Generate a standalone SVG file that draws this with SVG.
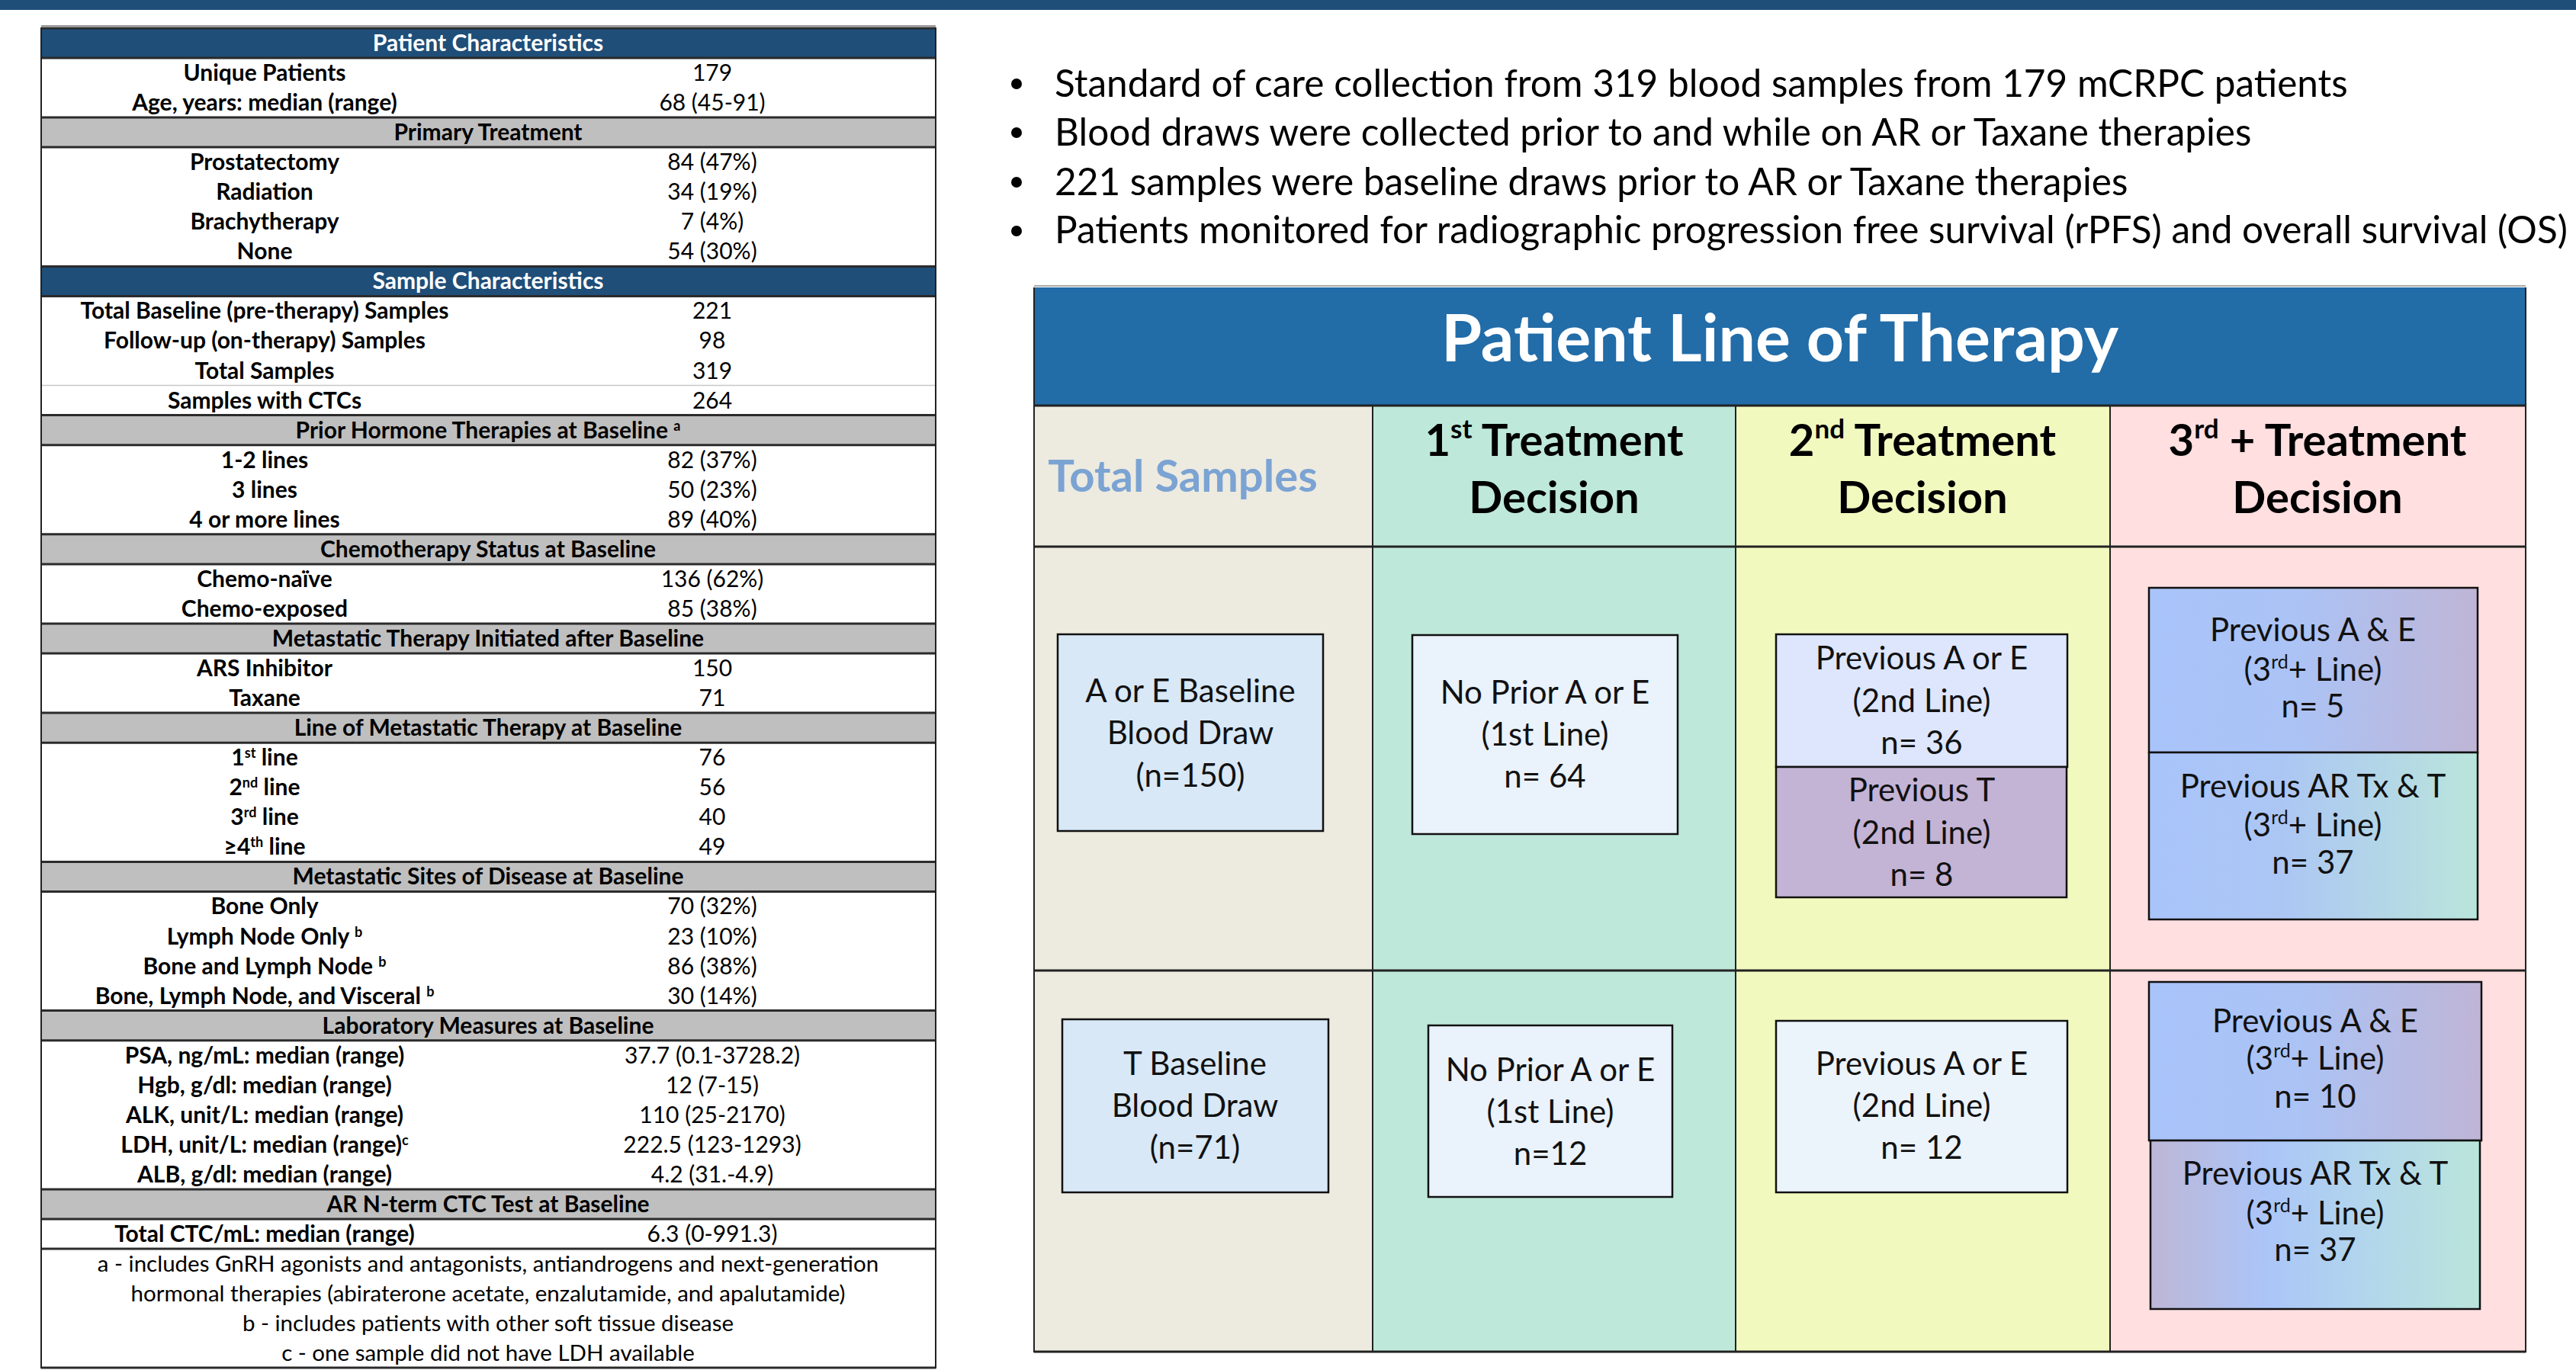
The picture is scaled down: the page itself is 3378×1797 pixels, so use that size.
<svg xmlns="http://www.w3.org/2000/svg" width="3378" height="1797" viewBox="0 0 3378 1797">
<style>
text{font-family:Lato,"Liberation Sans",sans-serif;}
.tl{font-size:30px;font-weight:bold;fill:#000;text-anchor:middle;}
.tv{font-size:30px;fill:#000;text-anchor:middle;}
.th{font-size:30px;font-weight:bold;fill:#000;text-anchor:middle;}
.thw{font-size:30px;font-weight:bold;fill:#fff;text-anchor:middle;}
.fn{font-size:29.5px;fill:#000;text-anchor:middle;}
.sep{stroke:#2b2b2b;stroke-width:3;}
.blu{fill:#1F4E79;}
.gry{fill:#BFBFBF;}
.bul{font-size:49.5px;fill:#000;}
.ph{font-size:86px;font-weight:bold;fill:#fff;text-anchor:middle;}
.sh{font-size:58px;font-weight:bold;fill:#000;text-anchor:middle;}
.bx{stroke:#111;stroke-width:2.5;}
.bt{font-size:42px;fill:#111;text-anchor:middle;}
.cl{stroke:#222;stroke-width:2;}
</style>
<defs>
<linearGradient id="gAE" x1="0" y1="0" x2="1" y2="0">
<stop offset="0" stop-color="#A9C4FA"/><stop offset="0.45" stop-color="#ABC3F5"/><stop offset="1" stop-color="#BFB5D6"/>
</linearGradient>
<linearGradient id="gAR" x1="0" y1="0" x2="1" y2="0">
<stop offset="0" stop-color="#A9C4FA"/><stop offset="0.4" stop-color="#ACC6F4"/><stop offset="1" stop-color="#BAE5DB"/>
</linearGradient>
<linearGradient id="gAR2" x1="0" y1="0" x2="1" y2="0">
<stop offset="0" stop-color="#BEB6D6"/><stop offset="0.35" stop-color="#ABC5F8"/><stop offset="0.7" stop-color="#B3D8EA"/><stop offset="1" stop-color="#BAE5DA"/>
</linearGradient>
</defs>
<rect x="0" y="0" width="3378" height="1797" fill="#fff"/>
<rect x="0" y="0" width="3378" height="13" fill="#1F4E79"/>

<g id="table">
<rect x="54" y="37" width="1173" height="1757" fill="#fff"/>
<rect class="blu" x="54" y="37" width="1173" height="39"/>
<rect class="gry" x="54" y="154" width="1173" height="39"/>
<rect class="blu" x="54" y="349.4" width="1173" height="39"/>
<rect class="gry" x="54" y="544.6" width="1173" height="39"/>
<rect class="gry" x="54" y="700.8" width="1173" height="39"/>
<rect class="gry" x="54" y="818" width="1173" height="39"/>
<rect class="gry" x="54" y="935.1" width="1173" height="39"/>
<rect class="gry" x="54" y="1130.4" width="1173" height="39"/>
<rect class="gry" x="54" y="1325.6" width="1173" height="39"/>
<rect class="gry" x="54" y="1560" width="1173" height="39"/>
<line x1="54" y1="34" x2="1227" y2="34" stroke="#999" stroke-width="2"/>
<g class="sep">
<line x1="54" y1="37" x2="1227" y2="37"/>
<line x1="54" y1="76" x2="1227" y2="76"/>
<line x1="54" y1="154" x2="1227" y2="154"/>
<line x1="54" y1="193" x2="1227" y2="193"/>
<line x1="54" y1="349.4" x2="1227" y2="349.4"/>
<line x1="54" y1="388.4" x2="1227" y2="388.4"/>
<line x1="54" y1="544.6" x2="1227" y2="544.6"/>
<line x1="54" y1="583.7" x2="1227" y2="583.7"/>
<line x1="54" y1="700.8" x2="1227" y2="700.8"/>
<line x1="54" y1="739.9" x2="1227" y2="739.9"/>
<line x1="54" y1="818" x2="1227" y2="818"/>
<line x1="54" y1="857" x2="1227" y2="857"/>
<line x1="54" y1="935.1" x2="1227" y2="935.1"/>
<line x1="54" y1="974.2" x2="1227" y2="974.2"/>
<line x1="54" y1="1130.4" x2="1227" y2="1130.4"/>
<line x1="54" y1="1169.4" x2="1227" y2="1169.4"/>
<line x1="54" y1="1325.6" x2="1227" y2="1325.6"/>
<line x1="54" y1="1364.7" x2="1227" y2="1364.7"/>
<line x1="54" y1="1560" x2="1227" y2="1560"/>
<line x1="54" y1="1599" x2="1227" y2="1599"/>
<line x1="54" y1="1638" x2="1227" y2="1638"/>
<line x1="54" y1="1794" x2="1227" y2="1794"/>
</g>
<line x1="54" y1="505.6" x2="1227" y2="505.6" stroke="#c8c8c8" stroke-width="1.5"/>
<line x1="54" y1="36" x2="54" y2="1795" stroke="#222" stroke-width="2"/>
<line x1="1227" y1="36" x2="1227" y2="1795" stroke="#222" stroke-width="2"/>

<text class="thw" x="640" y="67">Patient Characteristics</text>
<text class="tl" x="347" y="106">Unique Patients</text><text class="tv" x="934" y="106">179</text>
<text class="tl" x="347" y="145">Age, years: median (range)</text><text class="tv" x="934" y="145">68 (45-91)</text>
<text class="th" x="640" y="184">Primary Treatment</text>
<text class="tl" x="347" y="223">Prostatectomy</text><text class="tv" x="934" y="223">84 (47%)</text>
<text class="tl" x="347" y="262">Radiation</text><text class="tv" x="934" y="262">34 (19%)</text>
<text class="tl" x="347" y="301">Brachytherapy</text><text class="tv" x="934" y="301">7 (4%)</text>
<text class="tl" x="347" y="340">None</text><text class="tv" x="934" y="340">54 (30%)</text>
<text class="thw" x="640" y="379">Sample Characteristics</text>
<text class="tl" x="347" y="418">Total Baseline (pre-therapy) Samples</text><text class="tv" x="934" y="418">221</text>
<text class="tl" x="347" y="457">Follow-up (on-therapy) Samples</text><text class="tv" x="934" y="457">98</text>
<text class="tl" x="347" y="497">Total Samples</text><text class="tv" x="934" y="497">319</text>
<text class="tl" x="347" y="536">Samples with CTCs</text><text class="tv" x="934" y="536">264</text>
<text class="th" x="640" y="575">Prior Hormone Therapies at Baseline <tspan font-size="18" dy="-10">a</tspan></text>
<text class="tl" x="347" y="614">1-2 lines</text><text class="tv" x="934" y="614">82 (37%)</text>
<text class="tl" x="347" y="653">3 lines</text><text class="tv" x="934" y="653">50 (23%)</text>
<text class="tl" x="347" y="692">4 or more lines</text><text class="tv" x="934" y="692">89 (40%)</text>
<text class="th" x="640" y="731">Chemotherapy Status at Baseline</text>
<text class="tl" x="347" y="770">Chemo-naïve</text><text class="tv" x="934" y="770">136 (62%)</text>
<text class="tl" x="347" y="809">Chemo-exposed</text><text class="tv" x="934" y="809">85 (38%)</text>
<text class="th" x="640" y="848">Metastatic Therapy Initiated after Baseline</text>
<text class="tl" x="347" y="887">ARS Inhibitor</text><text class="tv" x="934" y="887">150</text>
<text class="tl" x="347" y="926">Taxane</text><text class="tv" x="934" y="926">71</text>
<text class="th" x="640" y="965">Line of Metastatic Therapy at Baseline</text>
<text class="tl" x="347" y="1004">1<tspan font-size="18" dy="-10">st</tspan><tspan dy="10"> line</tspan></text><text class="tv" x="934" y="1004">76</text>
<text class="tl" x="347" y="1043">2<tspan font-size="18" dy="-10">nd</tspan><tspan dy="10"> line</tspan></text><text class="tv" x="934" y="1043">56</text>
<text class="tl" x="347" y="1082">3<tspan font-size="18" dy="-10">rd</tspan><tspan dy="10"> line</tspan></text><text class="tv" x="934" y="1082">40</text>
<text class="tl" x="347" y="1121">≥4<tspan font-size="18" dy="-10">th</tspan><tspan dy="10"> line</tspan></text><text class="tv" x="934" y="1121">49</text>
<text class="th" x="640" y="1160">Metastatic Sites of Disease at Baseline</text>
<text class="tl" x="347" y="1199">Bone Only</text><text class="tv" x="934" y="1199">70 (32%)</text>
<text class="tl" x="347" y="1239">Lymph Node Only <tspan font-size="18" dy="-10">b</tspan></text><text class="tv" x="934" y="1239">23 (10%)</text>
<text class="tl" x="347" y="1278">Bone and Lymph Node <tspan font-size="18" dy="-10">b</tspan></text><text class="tv" x="934" y="1278">86 (38%)</text>
<text class="tl" x="347" y="1317">Bone, Lymph Node, and Visceral <tspan font-size="18" dy="-10">b</tspan></text><text class="tv" x="934" y="1317">30 (14%)</text>
<text class="th" x="640" y="1356">Laboratory Measures at Baseline</text>
<text class="tl" x="347" y="1395">PSA, ng/mL: median (range)</text><text class="tv" x="934" y="1395">37.7 (0.1-3728.2)</text>
<text class="tl" x="347" y="1434">Hgb, g/dl: median (range)</text><text class="tv" x="934" y="1434">12 (7-15)</text>
<text class="tl" x="347" y="1473">ALK, unit/L: median (range)</text><text class="tv" x="934" y="1473">110 (25-2170)</text>
<text class="tl" x="347" y="1512">LDH, unit/L: median (range)<tspan font-size="18" dy="-10">c</tspan></text><text class="tv" x="934" y="1512">222.5 (123-1293)</text>
<text class="tl" x="347" y="1551">ALB, g/dl: median (range)</text><text class="tv" x="934" y="1551">4.2 (31.-4.9)</text>
<text class="th" x="640" y="1590">AR N-term CTC Test at Baseline</text>
<text class="tl" x="347" y="1629">Total CTC/mL: median (range)</text><text class="tv" x="934" y="1629">6.3 (0-991.3)</text>
<text class="fn" x="640" y="1668">a - includes GnRH agonists and antagonists, antiandrogens and next-generation</text>
<text class="fn" x="640" y="1707">hormonal therapies (abiraterone acetate, enzalutamide, and apalutamide)</text>
<text class="fn" x="640" y="1746">b - includes patients with other soft tissue disease</text>
<text class="fn" x="640" y="1785">c - one sample did not have LDH available</text>
</g>

<g id="bullets">
<circle cx="1333" cy="110" r="7" fill="#000"/>
<circle cx="1333" cy="174" r="7" fill="#000"/>
<circle cx="1333" cy="239" r="7" fill="#000"/>
<circle cx="1333" cy="303" r="7" fill="#000"/>
<text class="bul" x="1383" y="127">Standard of care collection from 319 blood samples from 179 mCRPC patients</text>
<text class="bul" x="1383" y="191">Blood draws were collected prior to and while on AR or Taxane therapies</text>
<text class="bul" x="1383" y="256">221 samples were baseline draws prior to AR or Taxane therapies</text>
<text class="bul" x="1383" y="319">Patients monitored for radiographic progression free survival (rPFS) and overall survival (OS)</text>
</g>

<g id="panel">
<rect x="1356" y="532" width="444" height="1241" fill="#EDEADF"/>
<rect x="1800" y="532" width="476" height="1241" fill="#BEE8DA"/>
<rect x="2276" y="532" width="491" height="1241" fill="#F2F9BF"/>
<rect x="2767" y="532" width="545" height="1241" fill="#FFDFE0"/>
<rect x="1356" y="377" width="1956" height="155" fill="#226CA8"/>
<line x1="1356" y1="375" x2="3312" y2="375" stroke="#aaa" stroke-width="2"/>
<g class="cl">
<line x1="1356" y1="532" x2="3312" y2="532" stroke-width="3"/>
<line x1="1356" y1="717" x2="3312" y2="717" stroke-width="3"/>
<line x1="1356" y1="1273" x2="3312" y2="1273" stroke-width="3"/>
<line x1="1356" y1="1773" x2="3312" y2="1773" stroke-width="3"/>
<line x1="1800" y1="532" x2="1800" y2="1773"/>
<line x1="2276" y1="532" x2="2276" y2="1773"/>
<line x1="2767" y1="532" x2="2767" y2="1773"/>
<line x1="1356" y1="377" x2="1356" y2="1774"/>
<line x1="3312" y1="377" x2="3312" y2="1774"/>
</g>
<text class="ph" x="2334" y="474">Patient Line of Therapy</text>
<text class="sh" x="1551" y="645" style="fill:#7BA3D3">Total Samples</text>
<text class="sh" x="2038" y="598">1<tspan font-size="35" dy="-23">st</tspan><tspan dy="23"> Treatment</tspan></text>
<text class="sh" x="2038" y="673">Decision</text>
<text class="sh" x="2521" y="598">2<tspan font-size="35" dy="-23">nd</tspan><tspan dy="23"> Treatment</tspan></text>
<text class="sh" x="2521" y="673">Decision</text>
<text class="sh" x="3039" y="598">3<tspan font-size="35" dy="-23">rd</tspan><tspan dy="23"> + Treatment</tspan></text>
<text class="sh" x="3039" y="673">Decision</text>
</g>

<g id="node-ae-baseline">
<rect class="bx" x="1387" y="832" width="348" height="258" fill="#D8E8F7"/>
<text class="bt" x="1561" y="921">A or E Baseline</text>
<text class="bt" x="1561" y="976">Blood Draw</text>
<text class="bt" x="1561" y="1032">(n=150)</text>
</g>
<g id="node-noprior-1">
<rect class="bx" x="1852" y="833" width="348" height="261" fill="#EAF2FB"/>
<text class="bt" x="2026" y="923">No Prior A or E</text>
<text class="bt" x="2026" y="978">(1st Line)</text>
<text class="bt" x="2026" y="1033">n= 64</text>
</g>
<g id="node-prev-ae-1">
<rect class="bx" x="2329" y="832" width="382" height="174" fill="#DDE6FD"/>
<text class="bt" x="2520" y="878">Previous A or E</text>
<text class="bt" x="2520" y="934">(2nd Line)</text>
<text class="bt" x="2520" y="989">n= 36</text>
</g>
<g id="node-prev-t">
<rect class="bx" x="2329" y="1006" width="381" height="171" fill="#C3B3D5"/>
<text class="bt" x="2520" y="1051">Previous T</text>
<text class="bt" x="2520" y="1107">(2nd Line)</text>
<text class="bt" x="2520" y="1162">n= 8</text>
</g>
<g id="node-prev-a-and-e-1">
<rect class="bx" x="2818" y="771" width="431" height="216" fill="url(#gAE)"/>
<text class="bt" x="3033" y="841">Previous A &amp; E</text>
<text class="bt" x="3033" y="893">(3<tspan font-size="25" dy="-16">rd</tspan><tspan dy="16">+ Line)</tspan></text>
<text class="bt" x="3033" y="941">n= 5</text>
</g>
<g id="node-prev-ar-t-1">
<rect class="bx" x="2818" y="987" width="431" height="219" fill="url(#gAR)"/>
<text class="bt" x="3033" y="1046">Previous AR Tx &amp; T</text>
<text class="bt" x="3033" y="1097">(3<tspan font-size="25" dy="-16">rd</tspan><tspan dy="16">+ Line)</tspan></text>
<text class="bt" x="3033" y="1146">n= 37</text>
</g>
<g id="node-t-baseline">
<rect class="bx" x="1393" y="1337" width="349" height="227" fill="#D8E8F7"/>
<text class="bt" x="1567" y="1410">T Baseline</text>
<text class="bt" x="1567" y="1465">Blood Draw</text>
<text class="bt" x="1567" y="1520">(n=71)</text>
</g>
<g id="node-noprior-2">
<rect class="bx" x="1873" y="1345" width="320" height="225" fill="#EAF2FB"/>
<text class="bt" x="2033" y="1418">No Prior A or E</text>
<text class="bt" x="2033" y="1473">(1st Line)</text>
<text class="bt" x="2033" y="1528">n=12</text>
</g>
<g id="node-prev-ae-2">
<rect class="bx" x="2329" y="1339" width="382" height="225" fill="#EBF3FB"/>
<text class="bt" x="2520" y="1410">Previous A or E</text>
<text class="bt" x="2520" y="1465">(2nd Line)</text>
<text class="bt" x="2520" y="1520">n= 12</text>
</g>
<g id="node-prev-a-and-e-2">
<rect class="bx" x="2818" y="1288" width="436" height="208" fill="url(#gAE)"/>
<text class="bt" x="3036" y="1354">Previous A &amp; E</text>
<text class="bt" x="3036" y="1403">(3<tspan font-size="25" dy="-16">rd</tspan><tspan dy="16">+ Line)</tspan></text>
<text class="bt" x="3036" y="1453">n= 10</text>
</g>
<g id="node-prev-ar-t-2">
<rect class="bx" x="2820" y="1496" width="432" height="221" fill="url(#gAR2)"/>
<text class="bt" x="3036" y="1554">Previous AR Tx &amp; T</text>
<text class="bt" x="3036" y="1606">(3<tspan font-size="25" dy="-16">rd</tspan><tspan dy="16">+ Line)</tspan></text>
<text class="bt" x="3036" y="1654">n= 37</text>
</g>
<g id="connectors"></g>
</svg>
